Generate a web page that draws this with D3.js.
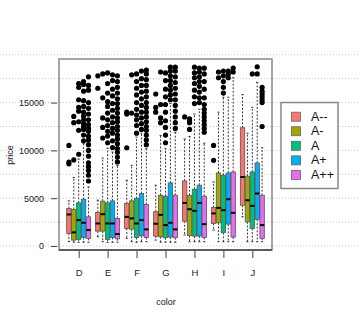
<!DOCTYPE html>
<html><head><meta charset="utf-8">
<script src="https://cdn.jsdelivr.net/npm/d3@7"></script>
<style>body{margin:0;background:#fff}svg{display:block;font-family:"Liberation Sans",Arial,sans-serif}</style>
</head><body><svg id="c" width="360" height="324"></svg>
<script>
const colors = ["D","E","F","G","H","I","J"];
const cuts = ["A--","A-","A","A+","A++"];
const fills = ["#F8766D","#A3A500","#00BF7D","#00B0F6","#E76BF3"];
const yTicks = [0,5000,10000,15000];
const gridValues = [0,2500,5000,7500,10000,12500,15000,17500,20000];
// [cut][color]
const loWhisker = [
  [470,970,800,625,1150,1670,3050],
  [400,450,450,400,450,450,450],
  [380,380,400,400,450,450,450],
  [400,400,450,400,450,450,450],
  [400,400,450,400,450,450,450]];
const q1 = [
  [1320,1560,1840,1040,2600,2360,4270],
  [625,1560,1770,970,1090,2430,2530],
  [700,700,900,870,1040,1390,1840],
  [900,900,1070,940,1040,2290,2780],
  [800,760,900,870,900,940,800]];
const median = [
  [3300,2360,3050,2330,4510,3410,7220],
  [1430,3330,2890,3260,3850,3990,4790],
  [2710,2360,2360,2190,3680,3750,4200],
  [2430,2360,2710,2430,4510,4900,5490],
  [1670,1250,1740,1740,2290,3470,2190]];
const q3 = [
  [3930,3510,4450,3580,6810,4030,12370],
  [3820,4690,4720,5310,5310,7640,7300],
  [4510,4510,4970,5210,5940,7400,7740],
  [4870,4720,5490,6600,6360,7640,8680],
  [3050,2890,4350,5310,5210,7740,5310]];
const hiWhisker = [
  [4720,4790,6880,6360,11200,6700,15840],
  [7160,9200,8440,11570,11460,14000,11800],
  [9100,10240,11390,10180,13800,15560,14510],
  [10760,9830,11800,14900,14300,15560,17120],
  [6180,8440,10180,11900,10760,17600,10280]];
const outliers = [
  [[8600,8780,10520],[16500,17800],[10280,13800,14000],[14000,14500,15900],[13500],[8960,10520],[]],
  [[9000,12900,13550],[11300,12400,13400,15500,18000],[13900,17900],[12900,13400,14800,18200],[12200,12900,13100,13300],[17600,18200],[]],
  [[9600,12100,13000,14100,14500,15300,16600,17000],[10800,11500,12000,12600,13200,13900,14600,15100,16000,17000,18100],[11800,12600,13200,13700,14300,15000,15800,16500,17200,18000],[10800,11600,12400,13100,14000,14800,15600,16400,17300,18100],[14900,15600,16300,17000,17600,18100,18700],[16000,16600,17200,17800,18300],[18000]],
  [[11000,11600,12200,12500,12800,13200,13600,14000,14600,15200,16200,16900,17200],[10300,11000,11800,12300,12900,13500,14200,14900,15700,16400,17300,17900],[12200,12800,13400,14000,14700,15400,16100,16800,17500,18300],[15300,15800,16300,16800,17300,17800,18300,18700],[15000,15500,16100,16700,17200,17700,18200,18600],[17600,18000,18300],[18000,18750]],
  [[6800,7400,7900,8300,8700,9400,10000,10600,11100,11500,12000,12300,12700,13200,13800,14400,15000,16300,16800,17700],[8800,9300,9800,10200,10700,11200,11600,12100,12500,13000,13400,13900,14400,14900,15400,16000,16600,17200,17800],[10600,11100,11600,12100,12500,13000,13500,14000,14500,15000,15600,16200,16800,17400,18000,18400],[12300,12900,13500,14100,14700,15300,15900,16500,17100,17700,18300,18700],[11900,12300,12700,13100,13500,13900,14300,14800,15500,16400,17200,18000,18600],[18200,18600],[12500,15000,15300,15600,15900,16200,16600]]];

const svg = d3.select("#c");
const y = d3.scaleLinear().domain([-415,19560]).range([250,59]);
const x = d3.scalePoint().domain(colors).range([59,272]).padding(0.68);
const xi = d3.scaleBand().domain(cuts).range([-12,12]).paddingInner(0.1);
const col = d3.scaleOrdinal().domain(cuts).range(fills);

// grid
svg.append("g").selectAll("line").data(gridValues).join("line")
  .attr("x1",0).attr("x2",360).attr("y1",d=>y(d)).attr("y2",d=>y(d))
  .attr("stroke","#c8c8c8").attr("stroke-width",1).attr("stroke-dasharray","1,2");

// boxes
const rows = [];
cuts.forEach((c,i)=>colors.forEach((k,j)=>rows.push({cut:c,color:k,lo:loWhisker[i][j],q1:q1[i][j],med:median[i][j],q3:q3[i][j],hi:hiWhisker[i][j],out:outliers[i][j]})));
const bw = xi.bandwidth();
const g = svg.append("g");
const cx = d=>x(d.color)+xi(d.cut)+bw/2;
g.selectAll(".wu").data(rows).join("line")
  .attr("x1",cx).attr("x2",cx).attr("y1",d=>y(d.q3)).attr("y2",d=>y(d.hi))
  .attr("stroke","#222").attr("stroke-width",0.9).attr("stroke-dasharray","2,1.6");
g.selectAll(".wl").data(rows).join("line")
  .attr("x1",cx).attr("x2",cx).attr("y1",d=>y(d.q1)).attr("y2",d=>y(d.lo))
  .attr("stroke","#222").attr("stroke-width",0.9).attr("stroke-dasharray","2,1.6");
g.selectAll(".cu").data(rows).join("line")
  .attr("x1",d=>cx(d)-1.1).attr("x2",d=>cx(d)+1.1).attr("y1",d=>y(d.hi)).attr("y2",d=>y(d.hi))
  .attr("stroke","#222").attr("stroke-width",0.9);
g.selectAll(".cl").data(rows).join("line")
  .attr("x1",d=>cx(d)-1.1).attr("x2",d=>cx(d)+1.1).attr("y1",d=>y(d.lo)).attr("y2",d=>y(d.lo))
  .attr("stroke","#222").attr("stroke-width",0.9);
g.selectAll(".bx").data(rows).join("rect")
  .attr("x",d=>x(d.color)+xi(d.cut)).attr("width",bw)
  .attr("y",d=>y(d.q3)).attr("height",d=>y(d.q1)-y(d.q3))
  .attr("fill",d=>col(d.cut)).attr("stroke","#555").attr("stroke-width",0.8);
g.selectAll(".md").data(rows).join("line")
  .attr("x1",d=>x(d.color)+xi(d.cut)).attr("x2",d=>x(d.color)+xi(d.cut)+bw)
  .attr("y1",d=>y(d.med)).attr("y2",d=>y(d.med))
  .attr("stroke","#000").attr("stroke-width",2);
const pts = rows.flatMap(d=>d.out.map(v=>({cx:cx(d),v})));
g.selectAll(".pt").data(pts).join("circle")
  .attr("cx",d=>d.cx).attr("cy",d=>y(d.v)).attr("r",2.6).attr("fill","#000");

// panel
svg.append("rect").attr("x",59).attr("y",59).attr("width",213).attr("height",191)
  .attr("fill","none").attr("stroke","#888").attr("stroke-width",1.5);
svg.append("line").attr("x1",59).attr("x2",272).attr("y1",250).attr("y2",250)
  .attr("stroke","#444").attr("stroke-width",1.5);

// axes
const ya = svg.append("g").attr("transform","translate(57,0)")
  .call(d3.axisLeft(y).tickValues(yTicks).tickSize(6).tickPadding(7).tickFormat(d3.format("d")));
ya.select(".domain").remove();
ya.selectAll("line").attr("stroke","#444");
ya.selectAll("text").attr("font-size",9).attr("fill","#222").attr("font-family","Liberation Sans, Arial, sans-serif");
const xa = svg.append("g").attr("transform","translate(0,251)")
  .call(d3.axisBottom(x).tickSize(7).tickPadding(11.5));
xa.select(".domain").remove();
xa.selectAll("line").attr("stroke","#444");
xa.selectAll("text").attr("font-size",9.5).attr("fill","#222").attr("font-family","Liberation Sans, Arial, sans-serif");

svg.append("text").attr("transform","translate(10,155) rotate(-90)").attr("text-anchor","middle")
  .attr("dominant-baseline","central").attr("font-size",9).attr("fill","#222").text("price");
svg.append("text").attr("x",166).attr("y",302).attr("text-anchor","middle")
  .attr("dominant-baseline","central").attr("font-size",9).attr("fill","#222").text("color");

// legend
const lg = svg.append("g");
lg.append("rect").attr("x",281).attr("y",102.5).attr("width",57).attr("height",86)
  .attr("fill","#fff").attr("stroke","#888").attr("stroke-width",1.5);
const li = lg.selectAll(".li").data(cuts).join("g")
  .attr("transform",(d,i)=>`translate(0,${116.7+i*14.55})`);
li.append("rect").attr("x",291.5).attr("y",-4.5).attr("width",9).attr("height",9)
  .attr("fill",d=>col(d)).attr("stroke","#666").attr("stroke-width",0.8);
li.append("text").attr("x",311).attr("y",0).attr("dominant-baseline","central")
  .attr("font-size",12.5).attr("fill","#111").text(d=>d);
</script></body></html>
